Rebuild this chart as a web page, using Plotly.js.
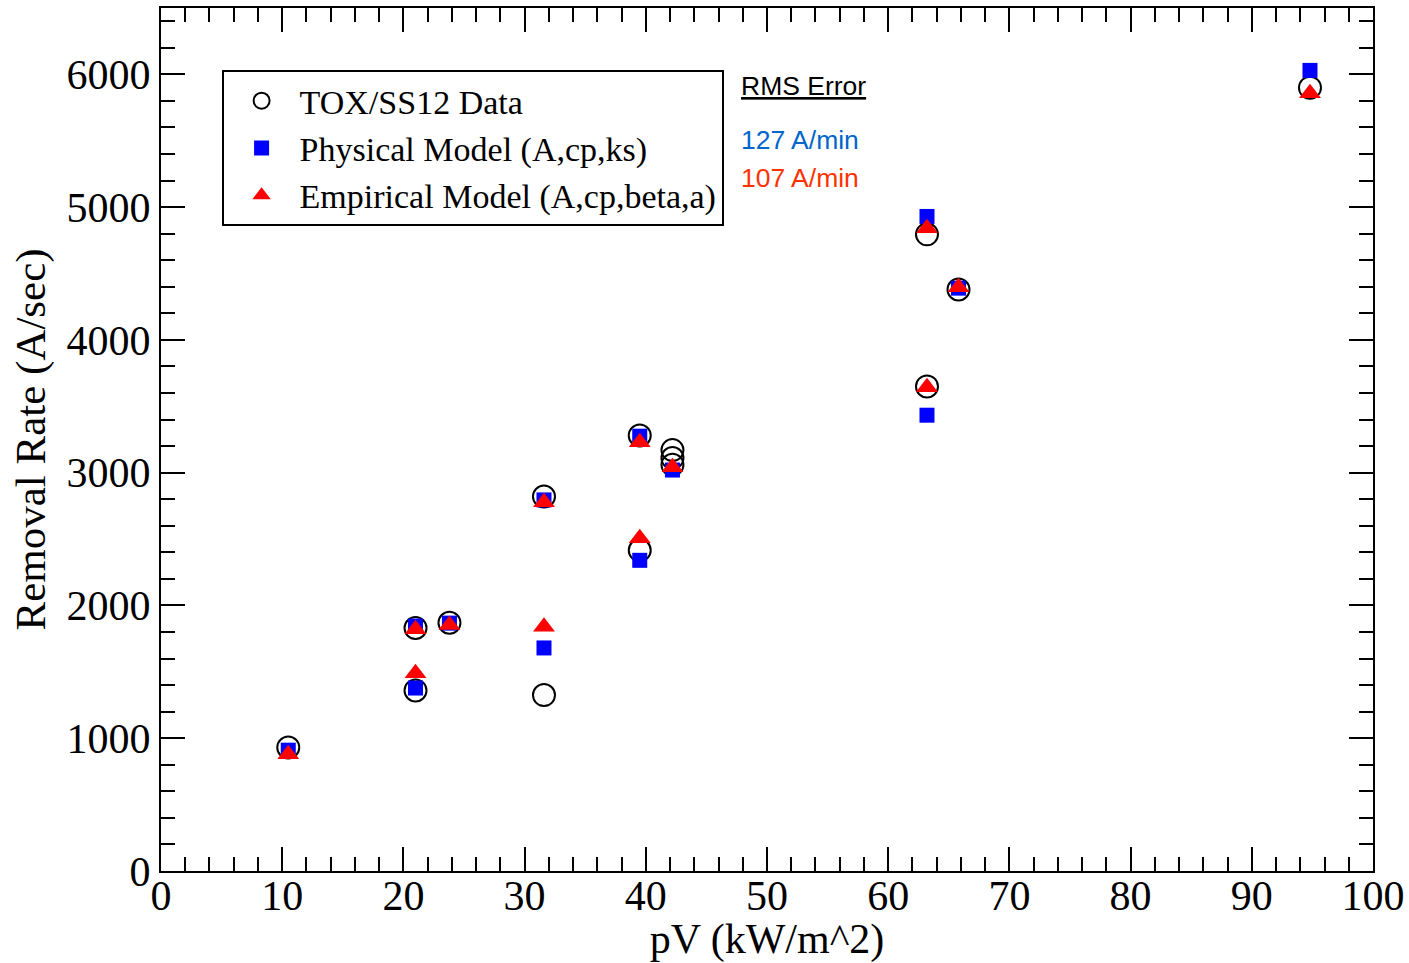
<!DOCTYPE html>
<html>
<head>
<meta charset="utf-8">
<script src="https://cdn.plot.ly/plotly-3.0.1.min.js"></script>
<style>
  html, body { margin: 0; padding: 0; background: #ffffff; }
  #chart { width: 1409px; height: 963px; }
</style>
</head>
<body>
<div id="chart"></div>
<script>
// Removal rate versus pV: measured data and two model fits
const pvData = [10.5, 21.0, 21.0, 23.8, 31.6, 31.6, 39.5, 39.5, 42.2, 42.2, 42.2, 63.2, 63.2, 65.8, 94.8];
const rateData = [930, 1830, 1360, 1870, 2820, 1325, 3280, 2415, 3170, 3110, 3060, 4795, 3650, 4380, 5900];

const pvModel = [10.5, 21.0, 21.0, 23.8, 31.6, 31.6, 39.5, 39.5, 42.2, 63.2, 63.2, 65.8, 94.8];
const ratePhysical = [910, 1845, 1378, 1867, 2795, 1680, 3275, 2340, 3020, 4930, 3433, 4390, 6030];
const rateEmpirical = [880, 1820, 1490, 1852, 2778, 1840, 3230, 2507, 3041, 4841, 3644, 4397, 5857];

const seriesNames = ['TOX/SS12 Data', 'Physical Model (A,cp,ks)', 'Empirical Model (A,cp,beta,a)'];
const rmsLabels = ['127 A/min', '107 A/min'];

const serif = 'Liberation Serif, Times New Roman, serif';
const sans = 'Liberation Sans, Arial, sans-serif';

const traces = [
  {
    x: pvData, y: rateData, name: seriesNames[0], type: 'scatter', mode: 'markers',
    marker: { symbol: 'circle-open', size: 22, color: '#000000', line: { width: 2, color: '#000000' } }
  },
  {
    x: pvModel, y: ratePhysical, name: seriesNames[1], type: 'scatter', mode: 'markers',
    marker: { symbol: 'square', size: 15, color: '#0000ff' }
  },
  {
    x: pvModel, y: rateEmpirical, name: seriesNames[2], type: 'scatter', mode: 'markers',
    marker: { symbol: 'triangle-up', size: 19, color: '#ff0000' }
  }
];

const axisCommon = {
  showgrid: false, zeroline: false, showline: true, linecolor: '#000000', linewidth: 2,
  mirror: 'ticks', ticks: 'inside', ticklen: 24, tickwidth: 2, tickcolor: '#000000',
  tickfont: { family: serif, size: 42, color: '#000000' }
};

const layout = {
  width: 1409, height: 963,
  paper_bgcolor: '#ffffff', plot_bgcolor: '#ffffff',
  margin: { l: 161, r: 36, t: 8, b: 92 },
  showlegend: true,
  legend: {
    x: 0.05, y: 0.928, xanchor: 'left', yanchor: 'top',
    bordercolor: '#000000', borderwidth: 2, bgcolor: '#ffffff',
    font: { family: serif, size: 34, color: '#000000' },
    itemwidth: 66, tracegroupgap: 0
  },
  xaxis: Object.assign({}, axisCommon, {
    range: [0, 100], dtick: 10, tick0: 0, ticklabelstandoff: -13,
    minor: { dtick: 2, ticks: 'inside', ticklen: 14, tickwidth: 2, tickcolor: '#000000', showgrid: false },
    title: { text: 'pV (kW/m^2)', font: { family: serif, size: 42, color: '#000000' }, standoff: 2 }
  }),
  yaxis: Object.assign({}, axisCommon, {
    range: [0, 6500], dtick: 1000, tick0: 0,
    minor: { dtick: 200, ticks: 'inside', ticklen: 14, tickwidth: 2, tickcolor: '#000000', showgrid: false },
    title: { text: 'Removal Rate (A/sec)', font: { family: serif, size: 43, color: '#000000' }, standoff: 8 }
  }),
  annotations: [
    { xref: 'paper', yref: 'paper', x: 0.477, y: 0.91, xanchor: 'left', yanchor: 'middle', showarrow: false,
      text: '<u>RMS Error</u>', font: { family: sans, size: 26.5, color: '#000000' } },
    { xref: 'paper', yref: 'paper', x: 0.477, y: 0.847, xanchor: 'left', yanchor: 'middle', showarrow: false,
      text: rmsLabels[0], font: { family: sans, size: 26.5, color: '#0066cc' } },
    { xref: 'paper', yref: 'paper', x: 0.477, y: 0.803, xanchor: 'left', yanchor: 'middle', showarrow: false,
      text: rmsLabels[1], font: { family: sans, size: 26.5, color: '#ff3300' } }
  ]
};

Plotly.newPlot('chart', traces, layout, { displayModeBar: false, staticPlot: true });
</script>
</body>
</html>
